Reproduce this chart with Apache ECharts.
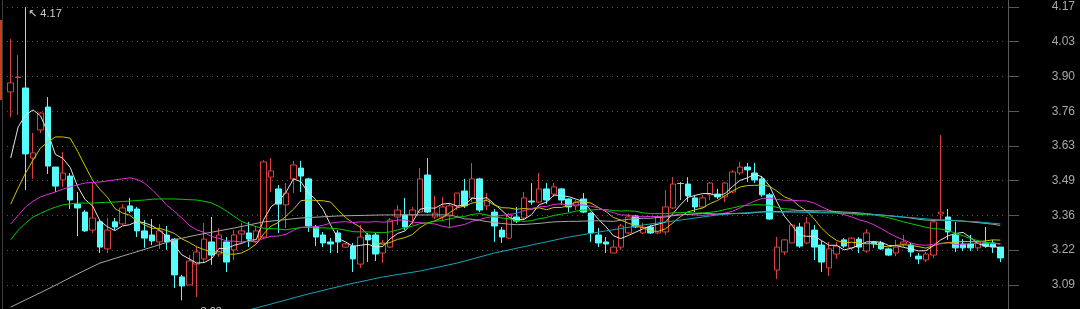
<!DOCTYPE html>
<html><head><meta charset="utf-8">
<script src="https://cdn.jsdelivr.net/npm/echarts@6/dist/echarts.min.js"></script>
<style>html,body{margin:0;padding:0;background:#000;}#c{width:1080px;height:309px;}</style>
</head><body><div id="c"></div>
<script>
// ---- candle data (index 0..133) ----
const opens = [3.840,3.896,3.855,3.583,3.692,3.781,3.548,3.498,3.513,3.404,
3.373,3.303,3.335,3.230,3.335,3.327,3.397,3.385,3.300,3.284,
3.257,3.284,3.268,3.121,3.090,3.171,3.191,3.257,3.210,3.257,
3.226,3.288,3.292,3.257,3.276,3.509,3.463,3.401,3.502,3.544,
3.502,3.315,3.284,3.257,3.292,3.237,3.241,3.171,3.284,3.284,
3.214,3.237,3.354,3.362,3.362,3.373,3.517,3.354,3.354,3.358,
3.397,3.455,3.428,3.502,3.397,3.373,3.303,3.272,3.354,3.350,
3.416,3.412,3.463,3.443,3.463,3.424,3.397,3.424,3.369,3.284,
3.257,3.214,3.237,3.292,3.358,3.292,3.315,3.292,3.296,3.389,
3.484,3.482,3.428,3.393,3.440,3.443,3.432,3.451,3.525,3.548,
3.525,3.502,3.440,3.148,3.218,3.253,3.315,3.253,3.303,3.245,
3.156,3.210,3.265,3.234,3.268,3.222,3.257,3.253,3.230,3.214,
3.249,3.245,3.202,3.187,3.206,3.366,3.354,3.284,3.249,3.249,
3.234,3.253,3.253,3.237];
const closes = [3.875,3.898,3.599,3.603,3.758,3.552,3.474,3.525,3.420,3.389,
3.300,3.350,3.237,3.303,3.315,3.389,3.377,3.300,3.272,3.261,
3.300,3.257,3.129,3.086,3.183,3.218,3.268,3.206,3.284,3.179,
3.284,3.300,3.268,3.300,3.568,3.533,3.404,3.447,3.556,3.513,
3.319,3.276,3.253,3.249,3.257,3.249,3.191,3.276,3.265,3.210,
3.253,3.342,3.381,3.315,3.381,3.502,3.373,3.369,3.393,3.397,
3.447,3.397,3.502,3.381,3.420,3.319,3.276,3.362,3.338,3.428,
3.412,3.463,3.420,3.471,3.420,3.393,3.412,3.373,3.292,3.253,
3.249,3.237,3.319,3.354,3.315,3.315,3.292,3.354,3.393,3.482,
3.484,3.436,3.393,3.428,3.486,3.432,3.486,3.529,3.548,3.537,
3.498,3.440,3.346,3.237,3.265,3.323,3.241,3.331,3.237,3.179,
3.230,3.241,3.241,3.272,3.237,3.292,3.249,3.230,3.206,3.237,
3.257,3.218,3.191,3.210,3.335,3.373,3.296,3.234,3.234,3.234,
3.257,3.241,3.237,3.195];
const lows = [3.742,3.750,3.459,3.502,3.680,3.521,3.451,3.471,3.385,3.280,
3.296,3.292,3.214,3.214,3.303,3.323,3.369,3.276,3.234,3.245,
3.230,3.226,3.078,3.030,3.090,3.043,3.179,3.168,3.199,3.140,
3.187,3.253,3.237,3.253,3.268,3.451,3.292,3.311,3.447,3.451,
3.296,3.241,3.237,3.214,3.214,3.234,3.140,3.156,3.179,3.183,
3.175,3.234,3.323,3.303,3.323,3.369,3.369,3.346,3.342,3.311,
3.381,3.389,3.412,3.373,3.381,3.257,3.253,3.268,3.331,3.342,
3.401,3.408,3.404,3.432,3.401,3.373,3.381,3.369,3.257,3.237,
3.214,3.214,3.226,3.288,3.311,3.288,3.288,3.288,3.284,3.385,
3.420,3.412,3.373,3.389,3.420,3.424,3.412,3.447,3.517,3.490,
3.486,3.432,3.342,3.113,3.206,3.253,3.234,3.249,3.187,3.140,
3.125,3.191,3.234,3.226,3.214,3.214,3.234,3.226,3.202,3.202,
3.237,3.199,3.171,3.179,3.195,3.342,3.265,3.218,3.222,3.222,
3.222,3.234,3.214,3.179];
const highs = [4.045,3.983,4.170,3.680,3.762,3.820,3.548,3.606,3.525,3.451,
3.381,3.486,3.342,3.350,3.350,3.404,3.428,3.393,3.342,3.346,
3.327,3.319,3.272,3.129,3.206,3.241,3.331,3.354,3.311,3.276,
3.303,3.331,3.335,3.315,3.575,3.583,3.478,3.486,3.572,3.572,
3.506,3.323,3.296,3.272,3.303,3.253,3.253,3.323,3.292,3.292,
3.265,3.350,3.401,3.428,3.393,3.544,3.583,3.436,3.432,3.408,
3.447,3.502,3.564,3.506,3.447,3.385,3.315,3.369,3.393,3.451,
3.486,3.525,3.486,3.486,3.467,3.428,3.420,3.447,3.373,3.311,
3.276,3.265,3.327,3.366,3.362,3.331,3.323,3.362,3.459,3.509,
3.490,3.509,3.440,3.440,3.490,3.463,3.490,3.537,3.568,3.564,
3.564,3.509,3.447,3.276,3.268,3.327,3.331,3.354,3.323,3.261,
3.257,3.257,3.272,3.276,3.276,3.307,3.261,3.261,3.234,3.265,
3.284,3.253,3.214,3.218,3.342,3.672,3.385,3.335,3.268,3.284,
3.265,3.315,3.265,3.237];

// ---- moving-average lines ----
const ma5 = [3.583,3.704,3.750,3.770,3.747,3.682,3.597,3.582,3.546,3.472,
3.422,3.397,3.339,3.316,3.301,3.319,3.324,3.337,3.331,3.320,
3.302,3.278,3.244,3.207,3.191,3.175,3.177,3.192,3.232,3.231,
3.244,3.251,3.263,3.266,3.344,3.394,3.415,3.450,3.502,3.491,
3.448,3.422,3.383,3.322,3.271,3.257,3.240,3.244,3.248,3.238,
3.239,3.269,3.290,3.300,3.334,3.384,3.390,3.388,3.404,3.407,
3.396,3.401,3.427,3.425,3.429,3.404,3.380,3.352,3.343,3.345,
3.363,3.401,3.412,3.439,3.437,3.433,3.423,3.414,3.378,3.345,
3.316,3.281,3.270,3.282,3.295,3.308,3.319,3.326,3.334,3.367,
3.401,3.430,3.438,3.445,3.445,3.435,3.445,3.472,3.496,3.506,
3.520,3.510,3.474,3.412,3.357,3.322,3.282,3.279,3.279,3.262,
3.244,3.244,3.226,3.233,3.244,3.257,3.258,3.256,3.243,3.243,
3.236,3.230,3.222,3.223,3.242,3.265,3.281,3.290,3.294,3.274,
3.251,3.240,3.241,3.233];
const ma10 = [3.404,3.467,3.525,3.575,3.622,3.645,3.665,3.665,3.660,3.609,
3.552,3.497,3.461,3.431,3.387,3.370,3.361,3.338,3.323,3.310,
3.310,3.301,3.290,3.269,3.255,3.238,3.227,3.218,3.219,3.211,
3.209,3.214,3.228,3.249,3.288,3.319,3.333,3.357,3.384,3.417,
3.421,3.418,3.417,3.412,3.381,3.352,3.331,3.314,3.285,3.255,
3.248,3.255,3.267,3.274,3.286,3.312,3.330,3.339,3.352,3.371,
3.390,3.396,3.408,3.414,3.418,3.400,3.390,3.389,3.384,3.387,
3.384,3.390,3.382,3.391,3.391,3.398,3.412,3.413,3.408,3.391,
3.375,3.352,3.342,3.330,3.320,3.312,3.300,3.298,3.308,3.331,
3.355,3.374,3.382,3.389,3.406,3.418,3.437,3.455,3.470,3.476,
3.477,3.478,3.473,3.454,3.432,3.421,3.396,3.377,3.346,3.310,
3.283,3.263,3.253,3.256,3.253,3.250,3.251,3.241,3.238,3.244,
3.246,3.244,3.239,3.233,3.243,3.251,3.255,3.256,3.259,3.258,
3.258,3.261,3.265,3.264];
const ma20 = [3.327,3.360,3.393,3.415,3.432,3.442,3.451,3.462,3.471,3.479,
3.486,3.488,3.490,3.494,3.498,3.502,3.506,3.500,3.485,3.460,
3.431,3.399,3.376,3.350,3.321,3.304,3.294,3.278,3.271,3.261,
3.260,3.257,3.259,3.259,3.271,3.279,3.280,3.287,3.302,3.314,
3.315,3.316,3.322,3.330,3.334,3.336,3.332,3.335,3.334,3.336,
3.334,3.336,3.342,3.343,3.334,3.332,3.330,3.327,3.318,3.313,
3.319,3.325,3.337,3.344,3.352,3.356,3.360,3.364,3.368,3.379,
3.387,3.393,3.395,3.403,3.405,3.399,3.401,3.401,3.396,3.389,
3.379,3.371,3.362,3.361,3.355,3.355,3.356,3.356,3.358,3.361,
3.365,3.363,3.362,3.360,3.363,3.365,3.369,3.376,3.389,3.403,
3.416,3.426,3.427,3.422,3.419,3.419,3.417,3.416,3.408,3.393,
3.380,3.370,3.363,3.355,3.343,3.336,3.324,3.309,3.292,3.277,
3.265,3.253,3.246,3.244,3.248,3.250,3.253,3.248,3.248,3.251,
3.252,3.252,3.252,3.248];
const ma30 = [3.265,3.303,3.330,3.354,3.368,3.381,3.392,3.401,3.405,3.408,
3.408,3.408,3.410,3.411,3.412,3.414,3.416,3.418,3.420,3.423,
3.424,3.424,3.424,3.423,3.421,3.420,3.415,3.408,3.395,3.377,
3.357,3.337,3.326,3.316,3.310,3.309,3.307,3.304,3.309,3.313,
3.314,3.311,3.312,3.310,3.308,3.303,3.297,3.296,3.296,3.294,
3.293,3.296,3.304,3.312,3.318,3.328,3.331,3.337,3.340,3.347,
3.353,3.356,3.364,3.367,3.362,3.355,3.350,3.347,3.340,3.337,
3.340,3.347,3.352,3.360,3.365,3.370,3.377,3.381,3.381,3.383,
3.383,3.379,3.377,3.378,3.376,3.370,3.367,3.367,3.367,3.370,
3.371,3.372,3.369,3.370,3.372,3.376,3.383,3.389,3.396,3.399,
3.402,3.401,3.399,3.391,3.386,3.384,3.378,3.377,3.375,3.372,
3.372,3.372,3.369,3.366,3.364,3.363,3.362,3.357,3.351,3.343,
3.335,3.328,3.321,3.314,3.309,3.307,3.301,3.291,3.281,3.270,
3.262,3.256,3.252,3.251];
// [candle index, value]
const ma60 = [[0,3.004],[2,3.032],[5,3.074],[9,3.133],[12,3.175],[15,3.202],[19,3.237],[22,3.265],
[25,3.284],[30,3.311],[34,3.335],[39,3.350],[44,3.358],[50,3.362],[55,3.362],
[59,3.362],[60,3.355],[61,3.347],[62,3.345],[63,3.341],[64,3.336],[65,3.332],[66,3.329],[67,3.326],[68,3.324],
[69,3.325],[70,3.327],[71,3.329],[72,3.332],[73,3.335],[74,3.336],[75,3.337],[76,3.337],[77,3.338],[78,3.339],
[79,3.339],[80,3.338],[81,3.337],[82,3.341],[83,3.345],[84,3.347],[85,3.349],[86,3.349],[87,3.352],[88,3.354],
[89,3.359],[90,3.362],[91,3.364],[92,3.366],[93,3.368],[94,3.367],[95,3.365],[96,3.367],[97,3.368],[98,3.368],
[99,3.368],[100,3.371],[101,3.374],[102,3.376],[103,3.375],[104,3.376],[105,3.377],[106,3.378],[107,3.379],[108,3.378],
[109,3.378],[110,3.377],[111,3.375],[112,3.373],[113,3.372],[114,3.370],[115,3.367],[116,3.364],[117,3.362],[118,3.359],
[119,3.356],[120,3.353],[121,3.350],[122,3.345],[123,3.342],[124,3.341],[125,3.342],[126,3.342],[127,3.340],[128,3.338],
[129,3.335],[130,3.332],[131,3.329],[132,3.326],[133,3.321]];
const ma120 = [[26,2.946],[30,2.977],[35,3.016],[40,3.055],[45,3.090],[50,3.121],[55,3.144],[60,3.175],
[65,3.214],[70,3.245],[75,3.276],[80,3.300],[85,3.323],[90,3.342],[95,3.362],[100,3.373],[105,3.373],
[110,3.370],[115,3.366],[120,3.354],[125,3.342],[130,3.335],[133,3.327]];

// ---- axis ticks ----
const yTickValues = [3.09, 3.225, 3.36, 3.495, 3.63, 3.765, 3.90, 4.035, 4.17];
const yTickLabels = ['3.09','3.22','3.36','3.49','3.63','3.76','3.90','4.03','4.17'];
const yMin = 2.9965, yMax = 4.197;
const highMark = { index: 2, value: 4.17, text: '4.17' };
const lowMark = { index: 23, value: 3.03, text: '3.03' };

const categories = opens.map((_, i) => String(i + 1));
const candleData = opens.map((o, i) => [o, closes[i], lows[i], highs[i]]);

function lineSeries(name, data, color) {
  return { name, type: 'line', data, showSymbol: false, symbol: 'none', connectNulls: true,
    lineStyle: { color, width: 1 }, itemStyle: { color }, z: 3, silent: true, clip: true, animation: false };
}

const chart = echarts.init(document.getElementById('c'), null, { renderer: 'canvas' });
chart.setOption({
  backgroundColor: '#000000',
  animation: false,
  grid: { left: 7, right: 76, top: 0, bottom: 0 },
  xAxis: { type: 'category', data: categories, boundaryGap: true,
    axisLine: { show: false }, axisTick: { show: false }, axisLabel: { show: false }, splitLine: { show: false } },
  yAxis: {
    type: 'value', position: 'right', offset: 4, min: yMin, max: yMax,
    axisLine: { show: true, lineStyle: { color: '#5a5a5a', width: 1 } },
    axisTick: { show: true, length: 11, lineStyle: { color: '#5a5a5a' }, customValues: yTickValues },
    axisLabel: { show: true, customValues: yTickValues, color: '#a8a8a8', fontSize: 12,
      fontFamily: 'Liberation Sans, Arial, sans-serif', align: 'right', margin: 67,
      formatter: v => { let k = 0, d = 1e9; yTickValues.forEach((t, j) => { if (Math.abs(t - v) < d) { d = Math.abs(t - v); k = j; } }); return yTickLabels[k]; } },
    splitLine: { show: true, lineStyle: { color: '#555555', type: [1, 4], width: 1 } }
  },
  series: [
    { name: 'K', type: 'candlestick', data: candleData, barWidth: 6, z: 2,
      itemStyle: { color: '#000000', color0: '#54fcfc', borderColor: '#dc4040', borderColor0: '#54fcfc',
        borderColorDoji: '#bdbdbd', borderWidth: 1 },
      markPoint: { symbol: 'circle', symbolSize: 1, itemStyle: { color: 'rgba(0,0,0,0)' }, silent: true,
        label: { show: true, position: 'right', color: '#cfcfcf', fontSize: 11, fontFamily: 'Liberation Sans, DejaVu Sans, sans-serif' },
        data: [
          { coord: [categories[highMark.index], highMark.value], label: { formatter: '\u2196 ' + highMark.text, offset: [-3, 7] } },
          { coord: [categories[lowMark.index], lowMark.value], label: { formatter: '\u2199' + lowMark.text, offset: [4, 12] } }
        ] } },
    lineSeries('MA5', ma5, '#e4e4e4'),
    lineSeries('MA10', ma10, '#cfc400'),
    lineSeries('MA20', ma20, '#e030e0'),
    lineSeries('MA30', ma30, '#00cc00'),
    lineSeries('MA60', ma60, '#a6a6a6'),
    lineSeries('MA120', ma120, '#12a6b6')
  ],
  graphic: [
    { type: 'line', z: 10, shape: { x1: 2.5, y1: 0, x2: 2.5, y2: 309 }, style: { stroke: '#3a3a3a', lineWidth: 1 }, silent: true },
    { type: 'rect', z: 11, shape: { x: 0, y: 20, width: 2, height: 80 }, style: { fill: '#c8401a' }, silent: true }
  ]
});
</script>
</body></html>
